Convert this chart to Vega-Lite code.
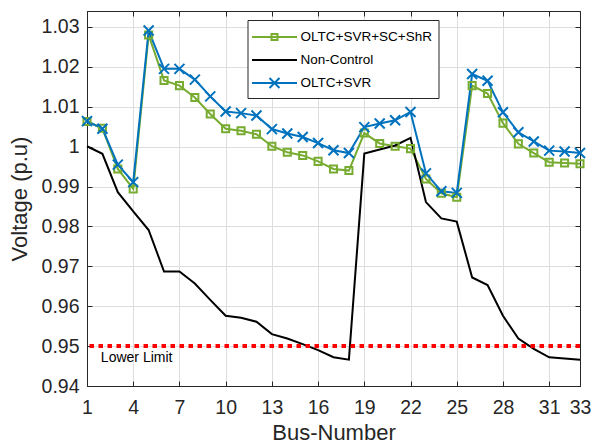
{
  "$schema": "https://vega.github.io/schema/vega-lite/v6.json",
  "width": 493,
  "height": 375,
  "autosize": "none",
  "padding": {"left": 87, "top": 11, "right": 13, "bottom": 61},
  "background": "white",
  "config": {
    "view": {"stroke": "#262626", "strokeWidth": 1},
    "font": "Liberation Sans",
    "axis": {
      "labelFont": "Liberation Sans",
      "labelFontSize": 19.5,
      "labelColor": "#262626",
      "titleFont": "Liberation Sans",
      "titleFontSize": 22,
      "titleFontWeight": "normal",
      "titleColor": "#262626",
      "domainColor": "#262626",
      "tickColor": "#262626",
      "gridColor": "#dedede",
      "gridWidth": 1
    }
  },
  "datasets": {
    "volt": [
      {"bus": 1, "series": "OLTC+SVR+SC+ShR", "v": 1.0063},
      {"bus": 2, "series": "OLTC+SVR+SC+ShR", "v": 1.0046},
      {"bus": 3, "series": "OLTC+SVR+SC+ShR", "v": 0.9944},
      {"bus": 4, "series": "OLTC+SVR+SC+ShR", "v": 0.9894},
      {"bus": 5, "series": "OLTC+SVR+SC+ShR", "v": 1.028},
      {"bus": 6, "series": "OLTC+SVR+SC+ShR", "v": 1.0166},
      {"bus": 7, "series": "OLTC+SVR+SC+ShR", "v": 1.0153},
      {"bus": 8, "series": "OLTC+SVR+SC+ShR", "v": 1.0123},
      {"bus": 9, "series": "OLTC+SVR+SC+ShR", "v": 1.0082},
      {"bus": 10, "series": "OLTC+SVR+SC+ShR", "v": 1.0045},
      {"bus": 11, "series": "OLTC+SVR+SC+ShR", "v": 1.004},
      {"bus": 12, "series": "OLTC+SVR+SC+ShR", "v": 1.0031},
      {"bus": 13, "series": "OLTC+SVR+SC+ShR", "v": 1.0001},
      {"bus": 14, "series": "OLTC+SVR+SC+ShR", "v": 0.9986},
      {"bus": 15, "series": "OLTC+SVR+SC+ShR", "v": 0.9978},
      {"bus": 16, "series": "OLTC+SVR+SC+ShR", "v": 0.9963},
      {"bus": 17, "series": "OLTC+SVR+SC+ShR", "v": 0.9944},
      {"bus": 18, "series": "OLTC+SVR+SC+ShR", "v": 0.994},
      {"bus": 19, "series": "OLTC+SVR+SC+ShR", "v": 1.0034},
      {"bus": 20, "series": "OLTC+SVR+SC+ShR", "v": 1.0008},
      {"bus": 21, "series": "OLTC+SVR+SC+ShR", "v": 1.0001},
      {"bus": 22, "series": "OLTC+SVR+SC+ShR", "v": 0.9995},
      {"bus": 23, "series": "OLTC+SVR+SC+ShR", "v": 0.9919},
      {"bus": 24, "series": "OLTC+SVR+SC+ShR", "v": 0.9883},
      {"bus": 25, "series": "OLTC+SVR+SC+ShR", "v": 0.9873},
      {"bus": 26, "series": "OLTC+SVR+SC+ShR", "v": 1.0153},
      {"bus": 27, "series": "OLTC+SVR+SC+ShR", "v": 1.0133},
      {"bus": 28, "series": "OLTC+SVR+SC+ShR", "v": 1.0059},
      {"bus": 29, "series": "OLTC+SVR+SC+ShR", "v": 1.0007},
      {"bus": 30, "series": "OLTC+SVR+SC+ShR", "v": 0.9984},
      {"bus": 31, "series": "OLTC+SVR+SC+ShR", "v": 0.9961},
      {"bus": 32, "series": "OLTC+SVR+SC+ShR", "v": 0.9959},
      {"bus": 33, "series": "OLTC+SVR+SC+ShR", "v": 0.9957},
      {"bus": 1, "series": "Non-Control", "v": 1.0001},
      {"bus": 2, "series": "Non-Control", "v": 0.9982},
      {"bus": 3, "series": "Non-Control", "v": 0.9886},
      {"bus": 4, "series": "Non-Control", "v": 0.9838},
      {"bus": 5, "series": "Non-Control", "v": 0.9791},
      {"bus": 6, "series": "Non-Control", "v": 0.9687},
      {"bus": 7, "series": "Non-Control", "v": 0.9687},
      {"bus": 8, "series": "Non-Control", "v": 0.9657},
      {"bus": 9, "series": "Non-Control", "v": 0.9616},
      {"bus": 10, "series": "Non-Control", "v": 0.9576},
      {"bus": 11, "series": "Non-Control", "v": 0.9571},
      {"bus": 12, "series": "Non-Control", "v": 0.9561},
      {"bus": 13, "series": "Non-Control", "v": 0.953},
      {"bus": 14, "series": "Non-Control", "v": 0.9519},
      {"bus": 15, "series": "Non-Control", "v": 0.9505},
      {"bus": 16, "series": "Non-Control", "v": 0.949},
      {"bus": 17, "series": "Non-Control", "v": 0.9472},
      {"bus": 18, "series": "Non-Control", "v": 0.9466},
      {"bus": 19, "series": "Non-Control", "v": 0.9983},
      {"bus": 20, "series": "Non-Control", "v": 0.9993},
      {"bus": 21, "series": "Non-Control", "v": 1.0003},
      {"bus": 22, "series": "Non-Control", "v": 1.0022},
      {"bus": 23, "series": "Non-Control", "v": 0.9861},
      {"bus": 24, "series": "Non-Control", "v": 0.982},
      {"bus": 25, "series": "Non-Control", "v": 0.9812},
      {"bus": 26, "series": "Non-Control", "v": 0.9672},
      {"bus": 27, "series": "Non-Control", "v": 0.9653},
      {"bus": 28, "series": "Non-Control", "v": 0.9576},
      {"bus": 29, "series": "Non-Control", "v": 0.9519},
      {"bus": 30, "series": "Non-Control", "v": 0.9493},
      {"bus": 31, "series": "Non-Control", "v": 0.9472},
      {"bus": 32, "series": "Non-Control", "v": 0.9469},
      {"bus": 33, "series": "Non-Control", "v": 0.9466},
      {"bus": 1, "series": "OLTC+SVR", "v": 1.0064},
      {"bus": 2, "series": "OLTC+SVR", "v": 1.0045},
      {"bus": 3, "series": "OLTC+SVR", "v": 0.9955},
      {"bus": 4, "series": "OLTC+SVR", "v": 0.9911},
      {"bus": 5, "series": "OLTC+SVR", "v": 1.0291},
      {"bus": 6, "series": "OLTC+SVR", "v": 1.0195},
      {"bus": 7, "series": "OLTC+SVR", "v": 1.0195},
      {"bus": 8, "series": "OLTC+SVR", "v": 1.0168},
      {"bus": 9, "series": "OLTC+SVR", "v": 1.0126},
      {"bus": 10, "series": "OLTC+SVR", "v": 1.0088},
      {"bus": 11, "series": "OLTC+SVR", "v": 1.0084},
      {"bus": 12, "series": "OLTC+SVR", "v": 1.0078},
      {"bus": 13, "series": "OLTC+SVR", "v": 1.0044},
      {"bus": 14, "series": "OLTC+SVR", "v": 1.0033},
      {"bus": 15, "series": "OLTC+SVR", "v": 1.0024},
      {"bus": 16, "series": "OLTC+SVR", "v": 1.0009},
      {"bus": 17, "series": "OLTC+SVR", "v": 0.9991},
      {"bus": 18, "series": "OLTC+SVR", "v": 0.9984},
      {"bus": 19, "series": "OLTC+SVR", "v": 1.0049},
      {"bus": 20, "series": "OLTC+SVR", "v": 1.0058},
      {"bus": 21, "series": "OLTC+SVR", "v": 1.0066},
      {"bus": 22, "series": "OLTC+SVR", "v": 1.0087},
      {"bus": 23, "series": "OLTC+SVR", "v": 0.9933},
      {"bus": 24, "series": "OLTC+SVR", "v": 0.9888},
      {"bus": 25, "series": "OLTC+SVR", "v": 0.9884},
      {"bus": 26, "series": "OLTC+SVR", "v": 1.0182},
      {"bus": 27, "series": "OLTC+SVR", "v": 1.0165},
      {"bus": 28, "series": "OLTC+SVR", "v": 1.0086},
      {"bus": 29, "series": "OLTC+SVR", "v": 1.0036},
      {"bus": 30, "series": "OLTC+SVR", "v": 1.0013},
      {"bus": 31, "series": "OLTC+SVR", "v": 0.999},
      {"bus": 32, "series": "OLTC+SVR", "v": 0.9988},
      {"bus": 33, "series": "OLTC+SVR", "v": 0.9984}
    ]
  },
  "resolve": {"axis": {"x": "independent", "y": "independent"}},
  "layer": [
    {
      "data": {"name": "volt"},
      "mark": {"type": "line", "strokeWidth": 2},
      "encoding": {
        "x": {"field": "bus", "type": "quantitative",
          "scale": {"domain": [1, 33], "nice": false, "zero": false},
          "axis": {"title": "Bus-Number", "values": [1, 4, 7, 10, 13, 16, 19, 22, 25, 28, 31, 33],
            "tickSize": -5, "labelPadding": 17, "titlePadding": 6, "grid": true, "labelFlush": false}},
        "y": {"field": "v", "type": "quantitative",
          "scale": {"domain": [0.94, 1.034], "nice": false, "zero": false},
          "axis": {"title": "Voltage (p.u)", "values": [0.94, 0.95, 0.96, 0.97, 0.98, 0.99, 1, 1.01, 1.02, 1.03],
            "labelExpr": "format(datum.value, '.2f') == '1.00' ? '1' : format(datum.value, '.2f')",
            "tickSize": -5, "labelPadding": 13, "titlePadding": 10, "grid": true}},
        "color": {"field": "series", "type": "nominal",
          "sort": ["OLTC+SVR+SC+ShR", "Non-Control", "OLTC+SVR"],
          "scale": {"domain": ["OLTC+SVR+SC+ShR", "Non-Control", "OLTC+SVR"], "range": ["#77AC30", "#000000", "#0072BD"]},
          "legend": {
            "title": null, "orient": "none", "legendX": 160.5, "legendY": 9,
            "fillColor": "white", "strokeColor": "#262626", "padding": 6,
            "labelFont": "Liberation Sans", "labelFontSize": 13.5, "labelColor": "#000000",
            "symbolSize": 400, "symbolStrokeWidth": 2, "rowPadding": 5, "labelOffset": 15, "symbolOffset": 10,
            "encode": {"symbols": {"update": {
              "shape": {"signal": "datum.value === 'Non-Control' ? 'M-2.25,0H2.25' : datum.value === 'OLTC+SVR' ? 'M-2.25,0H2.25M-0.5,-0.5L0.5,0.5M-0.5,0.5L0.5,-0.5' : 'M-2.25,0H2.25M-0.3,-0.3H0.3V0.3H-0.3Z'"},
              "fill": {"value": "transparent"}}}}
          }},
        "order": {"field": "bus"}
      }
    },
    {
      "data": {"name": "volt"},
      "transform": [{"filter": "datum.series === 'OLTC+SVR+SC+ShR'"}],
      "mark": {"type": "point", "shape": "square", "filled": false, "size": 50, "strokeWidth": 2, "color": "#77AC30", "opacity": 1},
      "encoding": {
        "x": {"field": "bus", "type": "quantitative", "axis": null},
        "y": {"field": "v", "type": "quantitative", "axis": null}
      }
    },
    {
      "data": {"name": "volt"},
      "transform": [{"filter": "datum.series === 'OLTC+SVR'"}],
      "mark": {"type": "point", "shape": "M-1,-1L1,1M-1,1L1,-1", "filled": false, "size": 100, "strokeWidth": 2, "color": "#0072BD", "opacity": 1},
      "encoding": {
        "x": {"field": "bus", "type": "quantitative", "axis": null},
        "y": {"field": "v", "type": "quantitative", "axis": null}
      }
    },
    {
      "data": {"values": [{"limit": 0.95}]},
      "mark": {"type": "rule", "color": "#FF0000", "strokeWidth": 4, "strokeDash": [4.5, 4.5]},
      "encoding": {
        "y": {"field": "limit", "type": "quantitative", "axis": null}
      }
    },
    {
      "data": {"values": [{"label": "Lower Limit"}]},
      "mark": {"type": "text", "align": "left", "baseline": "middle", "fontSize": 14, "font": "Liberation Sans", "color": "#000000"},
      "encoding": {
        "x": {"datum": 1.9, "type": "quantitative", "axis": null},
        "y": {"datum": 0.947, "type": "quantitative", "axis": null},
        "text": {"field": "label"}
      }
    },
    {
      "data": {"name": "volt"},
      "mark": {"type": "point", "opacity": 0},
      "encoding": {
        "x": {"field": "bus", "type": "quantitative",
          "axis": {"orient": "top", "labels": false, "grid": false, "title": null, "tickSize": -5, "values": [1, 4, 7, 10, 13, 16, 19, 22, 25, 28, 31, 33]}},
        "y": {"field": "v", "type": "quantitative",
          "axis": {"orient": "right", "labels": false, "grid": false, "title": null, "tickSize": -5, "values": [0.94, 0.95, 0.96, 0.97, 0.98, 0.99, 1, 1.01, 1.02, 1.03]}}
      }
    }
  ]
}
